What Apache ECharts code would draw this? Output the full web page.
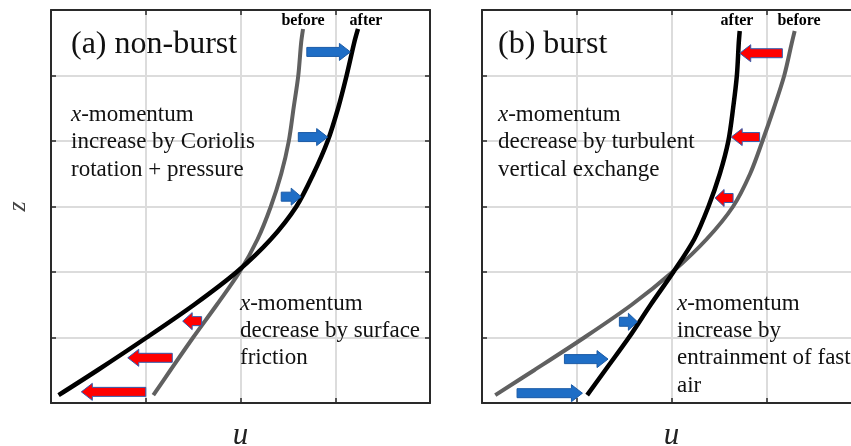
<!DOCTYPE html>
<html>
<head>
<meta charset="utf-8">
<script src="https://cdn.jsdelivr.net/npm/echarts@6/dist/echarts.min.js"></script>
<style>
html,body{margin:0;padding:0;background:#fff;}
#chart{width:851px;height:446px;}
</style>
</head>
<body>
<div id="chart"></div>
<script>
// ---- Data (u in grid units, z in grid units) ----
const nonBurstBefore = [[1.08,0.12],[1.26,0.5],[1.50,1.0],[1.75,1.5],[1.99,2.0],[2.18,2.5],[2.32,3.0],[2.43,3.5],[2.51,4.0],[2.56,4.5],[2.61,5.0],[2.64,5.5],[2.66,5.71]];
const nonBurstAfter  = [[0.08,0.12],[0.49,0.5],[1.01,1.0],[1.51,1.5],[1.96,2.0],[2.32,2.5],[2.59,3.0],[2.77,3.5],[2.92,4.0],[3.03,4.5],[3.12,5.0],[3.20,5.5],[3.24,5.71]];
const burstBefore    = [[0.14,0.12],[0.55,0.5],[1.08,1.0],[1.58,1.5],[2.01,2.0],[2.37,2.5],[2.65,3.0],[2.83,3.5],[2.96,4.0],[3.08,4.5],[3.19,5.0],[3.27,5.5],[3.30,5.68]];
const burstAfter     = [[1.11,0.12],[1.30,0.5],[1.55,1.0],[1.78,1.5],[2.02,2.0],[2.24,2.5],[2.39,3.0],[2.51,3.5],[2.60,4.0],[2.65,4.5],[2.69,5.0],[2.71,5.5],[2.72,5.68]];
// arrows: [z, uFrom, uTo]
const nonBurstGainArrows = [[5.36,2.70,3.16],[4.06,2.61,2.92],[3.15,2.43,2.64]];
const nonBurstLossArrows = [[1.25,1.59,1.39],[0.69,1.28,0.81],[0.17,1.00,0.32]];
const burstLossArrows    = [[5.34,3.17,2.72],[4.06,2.93,2.63],[3.13,2.65,2.46]];
const burstGainArrows    = [[1.24,1.45,1.64],[0.67,0.87,1.33],[0.15,0.37,1.06]];
const uTicks = [0,1,2,3,4];
const zTicks = [0,1,2,3,4,5,6];
const curveLabels = {a:['before','after'], b:['after','before']};

const chart = echarts.init(document.getElementById('chart'));
const AX = '#2a2a2a';
const uMin = uTicks[0], uMax = uTicks[uTicks.length-1];
const zMin = zTicks[0], zMax = zTicks[zTicks.length-1];
const serif = '"Liberation Serif","DejaVu Serif",serif';

function xAx(grid, pos, main){
  return {type:'value', gridIndex:grid, position:pos, min:uMin, max:uMax, interval:1,
    axisLine:{show:true, onZero:false, lineStyle:{color:AX, width:2}},
    axisTick:{show:true, inside:true, length:5, lineStyle:{color:AX, width:1.5}},
    axisLabel:{show:false},
    splitLine:{show:main, lineStyle:{color:'#dcdcdc', width:2}},
    name: main ? 'u' : '', nameLocation:'middle', nameGap:17,
    nameTextStyle:{fontFamily:serif, fontStyle:'italic', fontSize:31, color:'#222'}};
}
function yAx(grid, pos, main, name){
  return {type:'value', gridIndex:grid, position:pos, min:zMin, max:zMax, interval:1,
    axisLine:{show:true, onZero:false, lineStyle:{color:AX, width:2}},
    axisTick:{show:true, inside:true, length:5, lineStyle:{color:AX, width:1.5}},
    axisLabel:{show:false},
    splitLine:{show:main, lineStyle:{color:'#dcdcdc', width:2}},
    name: name || '', nameLocation:'middle', nameGap:20, nameRotate:90,
    nameTextStyle:{fontFamily:serif, fontStyle:'italic', fontSize:26, color:'#444'}};
}
function curve(data, xi, yi, color, w){
  return {type:'line', xAxisIndex:xi, yAxisIndex:yi, data:data, smooth:0.3, symbol:'none',
    lineStyle:{color:color, width:w, cap:'butt'}, z:3, silent:true};
}
function arrowSeries(data, xi, yi, fill, stroke){
  return {type:'custom', xAxisIndex:xi, yAxisIndex:yi, data:data, z:5, silent:true,
    encode:{x:[1,2], y:0},
    renderItem:function(params, api){
      const z = api.value(0), a = api.value(1), b = api.value(2);
      const p0 = api.coord([a, z]), p1 = api.coord([b, z]);
      const dir = p1[0] > p0[0] ? 1 : -1;
      const len = Math.abs(p1[0]-p0[0]);
      const head = Math.min(11, len*0.5);
      const sh = 4.5, hh = 8.5, y = p0[1];
      const bx = p1[0] - dir*head;
      return {type:'polygon', shape:{points:[[p0[0],y-sh],[bx,y-sh],[bx,y-hh],[p1[0],y],[bx,y+hh],[bx,y+sh],[p0[0],y+sh]]},
        style:{fill:fill, stroke:stroke, lineWidth:1}};
    }};
}

const BLUE = '#1f6ec6', BLUE_S = '#1a5aa6', RED = '#ff0000', RED_S = '#2f5db0';
const GRAY = '#606060', BLACK = '#000';

function annot(x, y, lines, size, lh){
  return {type:'text', left:x, top:y, z:10,
    style:{text:lines.join('\n'), fontFamily:serif, fontSize:size, lineHeight:lh, fill:'#111',
      rich:{i:{fontStyle:'italic', fontFamily:serif, fontSize:size, lineHeight:lh, fill:'#111'},
            n:{fontFamily:serif, fontSize:size, lineHeight:lh, fill:'#111'}}}};
}
function rl(line){ return line.indexOf('x-')===0 ? '{i|x}{n|'+line.slice(1)+'}' : '{n|'+line+'}'; }

const option = {
  animation:false,
  backgroundColor:'#fff',
  grid:[
    {left:51, top:10, width:379, height:393, outerBoundsMode:'none', containLabel:false},
    {left:482, top:10, width:379, height:393, outerBoundsMode:'none', containLabel:false}
  ],
  xAxis:[xAx(0,'bottom',true), xAx(0,'top',false), xAx(1,'bottom',true), xAx(1,'top',false)],
  yAxis:[yAx(0,'left',true,'z'), yAx(0,'right',false), yAx(1,'left',true), yAx(1,'right',false)],
  series:[
    curve(nonBurstBefore,0,0,GRAY,4),
    curve(nonBurstAfter,0,0,BLACK,4.5),
    curve(burstBefore,2,2,GRAY,4),
    curve(burstAfter,2,2,BLACK,4.5),
    arrowSeries(nonBurstGainArrows,0,0,BLUE,BLUE_S),
    arrowSeries(nonBurstLossArrows,0,0,RED,RED_S),
    arrowSeries(burstLossArrows,2,2,RED,RED_S),
    arrowSeries(burstGainArrows,2,2,BLUE,BLUE_S)
  ],
  graphic:[
    {type:'text', left:71, top:29, z:10, style:{text:'(a) non-burst', fontFamily:serif, fontSize:32, fill:'#111'}},
    {type:'text', left:498, top:29, z:10, style:{text:'(b) burst', fontFamily:serif, fontSize:32, fill:'#111'}},
    {type:'text', x:303, y:21, z:10, style:{text:curveLabels.a[0], fontFamily:serif, fontWeight:'bold', fontSize:16, fill:'#000', align:'center', verticalAlign:'middle'}},
    {type:'text', x:366, y:21, z:10, style:{text:curveLabels.a[1], fontFamily:serif, fontWeight:'bold', fontSize:16, fill:'#000', align:'center', verticalAlign:'middle'}},
    {type:'text', x:737, y:21, z:10, style:{text:curveLabels.b[0], fontFamily:serif, fontWeight:'bold', fontSize:16, fill:'#000', align:'center', verticalAlign:'middle'}},
    {type:'text', x:799, y:21, z:10, style:{text:curveLabels.b[1], fontFamily:serif, fontWeight:'bold', fontSize:16, fill:'#000', align:'center', verticalAlign:'middle'}},
    annot(71, 101, ['x-momentum','increase by Coriolis','rotation + pressure'].map(rl), 23, 27.5),
    annot(240, 290, ['x-momentum','decrease by surface','friction'].map(rl), 23, 27),
    annot(498, 101, ['x-momentum','decrease by turbulent','vertical exchange'].map(rl), 23, 27.5),
    annot(677, 290, ['x-momentum','increase by','entrainment of fast','air'].map(rl), 23, 27.3)
  ]
};
chart.setOption(option);
</script>
</body>
</html>
